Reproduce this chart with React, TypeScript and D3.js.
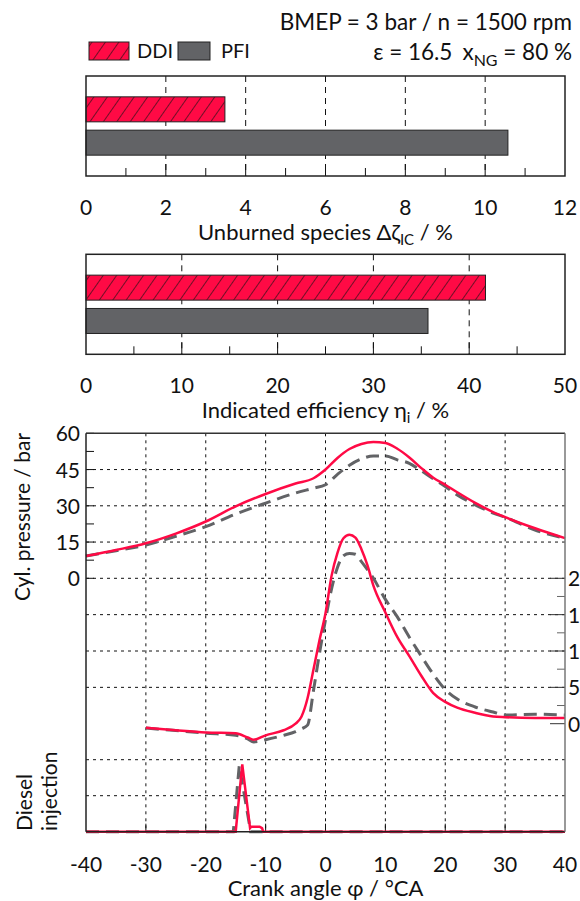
import React from 'react';
import * as d3 from 'd3';

const W = 580;
const H = 901;
const RED = '#ff0a45';
const GREY = '#626366';
const FONT = 'Lato, "Noto Sans", sans-serif';

// bar panels
const modes = ['DDI', 'PFI'];
const unburned = [3.48, 10.57];
const efficiency = [41.7, 35.7];
const unburnedTicks = [0, 2, 4, 6, 8, 10, 12];
const efficiencyTicks = [0, 10, 20, 30, 40, 50];

// cylinder pressure, bar
const crankAngles = [-40, -35, -30, -25, -20, -15, -10, -5, -2, 0, 2, 4, 6, 8, 10, 12, 14, 16, 18, 20, 22, 25, 28, 30, 35, 40];
const pressureDDI = [9.2, 11.7, 14.5, 18.5, 23.5, 29.8, 34.9, 39.2, 41.4, 45.0, 49.8, 53.5, 55.6, 56.4, 56.0, 53.6, 50.0, 45.6, 41.6, 38.7, 35.6, 31.2, 27.4, 25.3, 20.7, 16.6];
const pressurePFI = [9.2, 11.4, 13.8, 17.4, 21.4, 26.6, 31.1, 35.3, 37.3, 38.7, 43.0, 46.8, 49.4, 50.6, 50.6, 49.0, 47.6, 44.5, 41.2, 38.0, 34.5, 30.4, 27.0, 25.3, 20.0, 16.6];

// heat release rate (right axis)
const hrrAngles = [-30, -25, -20, -15, -13, -12, -10, -7, -5, -4, -3, -2, -1, 0, 1, 2, 3, 4, 5, 6, 7, 8, 10, 12, 14, 16, 18, 20, 22, 25, 28, 30, 35, 40];
const hrrDDI = [-0.55, -0.9, -1.2, -1.3, -1.9, -2.2, -1.6, -0.9, 0, 1.0, 3.5, 7.5, 11.5, 15.2, 20.3, 23.5, 25.5, 26.0, 25.6, 24.0, 21.8, 19.0, 15.3, 11.9, 9.3, 6.6, 4.2, 3.0, 2.2, 1.5, 1.0, 0.9, 0.8, 0.8];
const hrrPFI = [-0.6, -0.95, -1.3, -1.6, -2.1, -2.5, -2.2, -1.6, -1.1, -0.7, -0.2, 4.6, 9.7, 14.3, 18.5, 21.5, 23.1, 23.4, 23.3, 22.3, 21.2, 20.0, 17.1, 14.7, 11.9, 9.3, 6.8, 4.7, 3.4, 2.3, 1.6, 1.2, 1.3, 1.2];

// diesel injection signal
const injAnglesDDI = [-40, -15, -13.9, -12.6, -12.4, -11, -10.6, -10.4, 40];
const injDDI = [0, 0, 1.87, 0.1, 0.14, 0.14, 0.1, 0, 0];
const injAnglesPFI = [-40, -15.4, -14.4, -12.5, 40];
const injPFI = [0, 0, 1.84, 0, 0];

const crankTicks = [-40, -30, -20, -10, 0, 10, 20, 30, 40];
const pressureTicks = [0, 15, 30, 45, 60];
const hrrTicks = [0, 5, 10, 15, 20];

const L = 86;
const R = 565;

function BarPanel({ top, values, ticks, title }) {
  const bottom = top + 100;
  const max = ticks[ticks.length - 1];
  const step = ticks[1] - ticks[0];
  const x = d3.scaleLinear().domain([0, max]).range([L, R]);
  const y = d3.scaleBand().domain(modes).range([top, bottom]).paddingInner(0.25).paddingOuter(0.625);
  const minor = d3.range(step / 2, max, step);
  return (
    <g>
      {ticks.slice(1, -1).map(t => (
        <line key={'g' + t} x1={x(t)} x2={x(t)} y1={top} y2={bottom} stroke="#111" strokeDasharray="6,5" />
      ))}
      {ticks.slice(1, -1).map(t => (
        <line key={'t' + t} x1={x(t)} x2={x(t)} y1={bottom} y2={bottom - 12} stroke="#111" />
      ))}
      {minor.map(t => (
        <line key={'m' + t} x1={x(t)} x2={x(t)} y1={bottom} y2={bottom - 8} stroke="#111" />
      ))}
      {modes.map((m, i) => (
        <rect key={m} x={x(0)} y={y(m)} width={x(values[i]) - x(0)} height={y.bandwidth()}
          fill={i === 0 ? 'url(#hatch)' : GREY} stroke="#222" strokeWidth={1} />
      ))}
      <rect x={L} y={top} width={R - L} height={bottom - top} fill="none" stroke="#222" strokeWidth={1.5} />
      {ticks.map(t => (
        <text key={'l' + t} x={x(t)} y={bottom + 39} textAnchor="middle" fontSize={21}>{t}</text>
      ))}
      <text x={(L + R) / 2} y={bottom + 64} textAnchor="middle" fontSize={22}>{title}</text>
    </g>
  );
}

export default function App() {
  const top = 433.3;
  const bottom = 831.7;
  const x = d3.scaleLinear().domain([-40, 40]).range([L, R]);
  const yP = d3.scaleLinear().domain([0, 60]).range([578.3, top]);
  const yH = d3.scaleLinear().domain([0, 20]).range([723.7, 578.3]);
  const yI = d3.scaleLinear().domain([0, 3]).range([bottom, 723.7]);

  const pLine = (vals) => d3.line<number>().x((d, i) => x(crankAngles[i])).y(d => yP(d)).curve(d3.curveMonotoneX)(vals);
  const hLine = (vals) => d3.line<number>().x((d, i) => x(hrrAngles[i])).y(d => yH(d)).curve(d3.curveMonotoneX)(vals);
  const iLine = (angles, vals) => d3.line<number>().x((d, i) => x(angles[i])).y(d => yI(d))(vals);

  const gridY = [
    ...pressureTicks.slice(0, -1).map(v => yP(v)),
    ...hrrTicks.slice(1, -1).map(v => yH(v)),
    yI(1), yI(2),
  ];
  const pMinor = d3.range(7.5, 60, 15);
  const hMinor = d3.range(2.5, 20, 5);

  return (
    <svg width={W} height={H} style={{ position: 'absolute', left: 0, top: 0, background: '#fff' }}
      fontFamily={FONT} fill="#111">
      <defs>
        <pattern id="hatch" patternUnits="userSpaceOnUse" width={11} height={11} patternTransform="rotate(35)">
          <rect width={11} height={11} fill={RED} />
          <line x1={0} y1={0} x2={0} y2={11} stroke="#111" strokeWidth={1.2} />
        </pattern>
      </defs>

      <text x={572} y={30} textAnchor="end" fontSize={22.5}>BMEP = 3 bar / n = 1500 rpm</text>
      <text x={572} y={60} textAnchor="end" fontSize={22.5}>
        ε = 16.5<tspan dx={10}>x</tspan><tspan fontSize={16} dy={6}>NG</tspan><tspan dy={-6}> = 80 %</tspan>
      </text>

      <rect x={89} y={42} width={40} height={18} fill="url(#hatch)" stroke="#222" />
      <text x={137} y={58} fontSize={20}>DDI</text>
      <rect x={178} y={42} width={32} height={18} fill={GREY} stroke="#222" />
      <text x={221} y={58} fontSize={20}>PFI</text>

      <BarPanel top={76} values={unburned} ticks={unburnedTicks}
        title={<>Unburned species Δζ<tspan fontSize={15} dy={5}>IC</tspan><tspan dy={-5}> / %</tspan></>} />
      <BarPanel top={254.3} values={efficiency} ticks={efficiencyTicks}
        title={<>Indicated efficiency η<tspan fontSize={15} dy={5}>i</tspan><tspan dy={-5}> / %</tspan></>} />

      {/* crank angle panel */}
      {gridY.map((v, i) => (
        <line key={'hy' + i} x1={L} x2={R} y1={v} y2={v} stroke="#111" strokeDasharray="3,4" />
      ))}
      {crankTicks.slice(1, -1).map(t => (
        <line key={'vx' + t} x1={x(t)} x2={x(t)} y1={top} y2={bottom} stroke="#111" strokeDasharray="3,4" />
      ))}
      {crankTicks.slice(1, -1).map(t => (
        <line key={'tx' + t} x1={x(t)} x2={x(t)} y1={bottom} y2={bottom - 8} stroke="#111" />
      ))}
      {[...pressureTicks, ...pMinor].map(v => (
        <line key={'tp' + v} x1={L} x2={L + 8} y1={yP(v)} y2={yP(v)} stroke="#111" />
      ))}
      {hrrTicks.map(v => (
        <line key={'th' + v} x1={R} x2={R - 15} y1={yH(v)} y2={yH(v)} stroke="#333" />
      ))}
      {hMinor.map(v => (
        <line key={'thm' + v} x1={R} x2={R - 8} y1={yH(v)} y2={yH(v)} stroke="#666" />
      ))}

      <path d={iLine(injAnglesPFI, injPFI)} fill="none" stroke={GREY} strokeWidth={3} strokeDasharray="13,7" />
      <path d={iLine(injAnglesDDI, injDDI)} fill="none" stroke={RED} strokeWidth={2.5} />
      <path d={hLine(hrrPFI)} fill="none" stroke={GREY} strokeWidth={3} strokeDasharray="13,7" />
      <path d={hLine(hrrDDI)} fill="none" stroke={RED} strokeWidth={2.5} />
      <path d={pLine(pressurePFI)} fill="none" stroke={GREY} strokeWidth={3} strokeDasharray="13,7" />
      <path d={pLine(pressureDDI)} fill="none" stroke={RED} strokeWidth={2.5} />

      <line x1={L} x2={R} y1={top} y2={top} stroke="#333" strokeWidth={1.5} />
      <line x1={L} x2={L} y1={top} y2={bottom} stroke="#222" strokeWidth={1.5} />
      <line x1={L} x2={R} y1={bottom} y2={bottom} stroke="#222" strokeWidth={1.5} />
      <line x1={R} x2={R} y1={top} y2={bottom} stroke="#777" strokeWidth={1.5} />

      {pressureTicks.map(v => (
        <text key={'lp' + v} x={80} y={yP(v) + 8} textAnchor="end" fontSize={21}>{v}</text>
      ))}
      {hrrTicks.map(v => (
        <text key={'lh' + v} x={568} y={yH(v) + 8} fontSize={21}>{v}</text>
      ))}
      {crankTicks.map(t => (
        <text key={'lx' + t} x={x(t)} y={872} textAnchor="middle" fontSize={21}>{t}</text>
      ))}
      <text x={(L + R) / 2} y={896} textAnchor="middle" fontSize={22}>Crank angle φ / °CA</text>
      <text transform="translate(30,517) rotate(-90)" textAnchor="middle" fontSize={21}>Cyl. pressure / bar</text>
      <text transform="translate(32,831) rotate(-90)" fontSize={21}>Diesel</text>
      <text transform="translate(57,831) rotate(-90)" fontSize={21}>injection</text>
    </svg>
  );
}
